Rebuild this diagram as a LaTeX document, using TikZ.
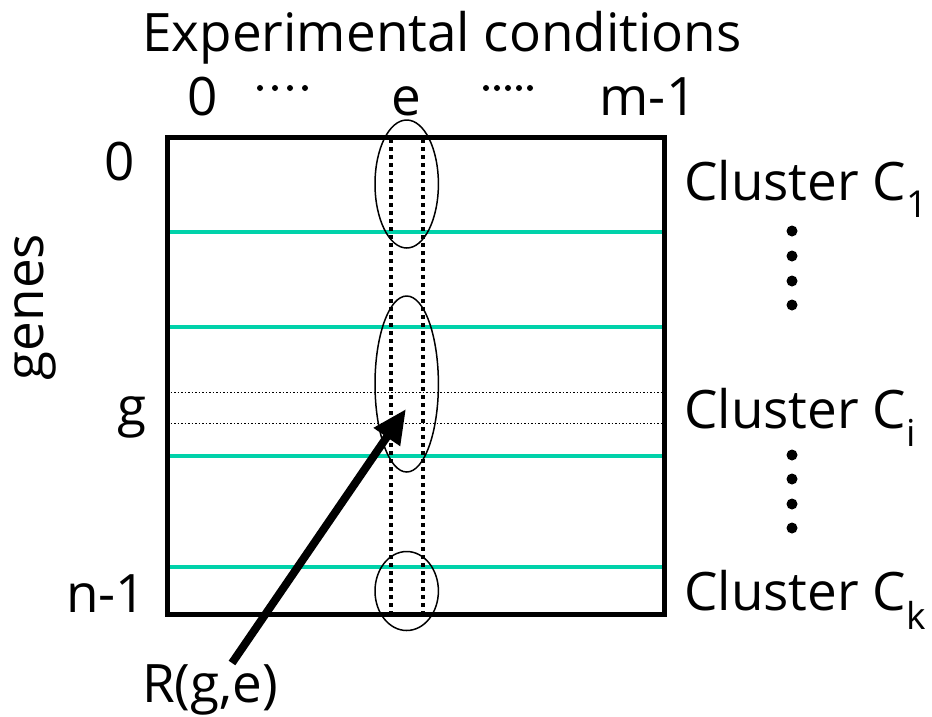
\documentclass[tikz,border=0pt]{standalone}
\usepackage{fontspec}
\setmainfont{Open Sans}
\usepackage{tikz}
\usetikzlibrary{arrows.meta}

\begin{document}
\begin{tikzpicture}[x=1pt, y=-1pt]
        \tikzstyle{lbl} = [inner sep=0pt, font=\fontsize{53}{60}\selectfont]
        \tikzstyle{split} = [color={rgb,255:red,0;green,210;blue,170}, line width=4pt]
        \tikzstyle{col} = [line width=3.5pt, dash pattern=on 3.5pt off 4.5pt]
        \tikzstyle{row} = [line width=1pt, dash pattern=on 1.5pt off 2pt]
        \tikzstyle{blob} = [line width=1.5pt]
        \useasboundingbox (0,0) rectangle (932,716);
        % the matrix
        \coordinate (tl) at (167,137);
        \coordinate (br) at (664,614);
        \foreach \y in {232, 327, 456, 567}
          \draw[split] (167,\y) -- (664,\y);
        \draw[row] (167,392) -- (664,392);
        \draw[row] (167,423) -- (664,423);
        \draw[col] (391,139) -- (391,612);
        \draw[col] (423,139) -- (423,612);
        \draw[line width=5pt] (tl) rectangle (br);
        \draw[blob] (406.7,184) ellipse (31.7 and 64);
        \draw[blob] (406.7,384) ellipse (31.7 and 88);
        \draw[blob] (406.7,591) ellipse (31.7 and 39.5);
        % labels
        \node[lbl] (title) at (442,38) {Experimental conditions};
        \node[lbl, anchor=base] (c0) at (203,115) {0};
        \node[lbl, anchor=base] (ce) at (406,115) {e};
        \node[lbl, anchor=base] (cm) at (648,115) {m-1};
        \foreach \x in {260, 275, 290, 305}
          \fill (\x,88) circle (3);
        \foreach \x in {486, 497, 508, 519, 530}
          \fill (\x,88) circle (3);
        \node[lbl, rotate=90] (genes) at (35,307) {genes};
        \node[lbl, anchor=base] (r0) at (120,180) {0};
        \node[lbl, anchor=base] (rg) at (132,425) {g};
        \node[lbl, anchor=base] (rn) at (106,612) {n-1};
        \node[lbl, anchor=base west] (k1) at (684,200) {Cluster C\textsubscript{1}};
        \node[lbl, anchor=base west] (ki) at (684,428) {Cluster C\textsubscript{i}};
        \node[lbl, anchor=base west] (kk) at (684,610) {Cluster C\textsubscript{k}};
        \foreach \y in {231, 256, 281, 305}
          \fill (792,\y) circle (5.5);
        \foreach \y in {455, 479, 504, 528}
          \fill (792,\y) circle (5.5);
        \node[lbl] (rge) at (210,690) {R(g,e)};
        \coordinate (tail) at (232,663);
        \coordinate (tip) at (406,409);
        \draw[line width=8pt, -{Triangle[length=34pt, width=30pt]}] (tail) -- (tip);
\end{tikzpicture}
\end{document}
